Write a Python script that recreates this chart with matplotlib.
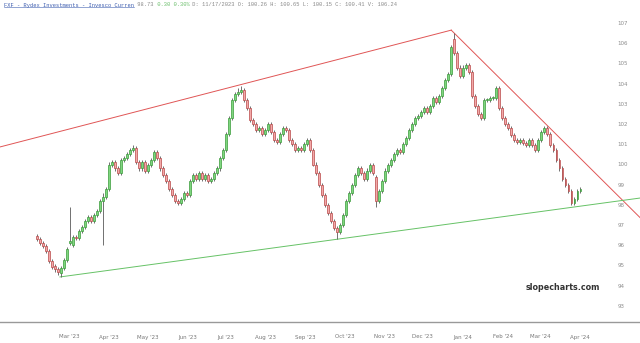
import pandas as pd
import matplotlib
matplotlib.use("Agg")
import matplotlib.pyplot as plt
import matplotlib.dates as mdates
from matplotlib.lines import Line2D

# ── data ──────────────────────────────────────────────────
start_date = "2023-02-04"
step = "56h"

open_ = [96.45, 96.30, 96.10, 95.95, 95.70, 95.20, 94.95, 94.80, 94.65, 94.85,
         95.25, 96.10, 96.00, 96.40, 96.35, 96.70, 96.90, 97.20, 97.40, 97.20,
         97.50, 97.70, 98.20, 98.40, 98.80, 99.97, 100.10, 99.80, 99.60, 100.20,
         100.30, 100.50, 100.70, 100.80, 100.10, 99.80, 100.10, 99.70, 99.95, 100.20,
         100.60, 100.30, 99.80, 99.50, 99.20, 98.80, 98.50, 98.20, 98.10, 98.30,
         98.60, 98.50, 99.20, 99.50, 99.30, 99.60, 99.30, 99.50, 99.20, 99.30,
         99.60, 99.80, 100.30, 100.70, 101.50, 102.30, 103.20, 103.50, 103.60, 103.70,
         103.20, 102.80, 102.20, 102.00, 101.70, 101.80, 101.50, 101.70, 102.00, 101.60,
         101.20, 101.10, 101.50, 101.80, 101.70, 101.20, 101.00, 100.70, 100.80, 100.70,
         101.00, 101.20, 100.70, 99.97, 99.60, 98.98, 98.50, 98.00, 97.60, 97.20,
         96.85, 96.65, 97.00, 97.50, 98.20, 98.60, 99.00, 99.50, 99.80, 99.60,
         99.30, 99.70, 99.95, 99.40, 98.20, 98.70, 99.20, 99.70, 99.95, 100.20,
         100.50, 100.70, 100.60, 101.00, 101.30, 101.70, 102.00, 102.30, 102.40, 102.60,
         102.80, 102.60, 102.90, 103.30, 103.10, 103.40, 103.80, 104.20, 104.50, 106.20,
         105.50, 104.80, 104.40, 104.80, 104.90, 104.60, 103.40, 102.90, 102.50, 102.30,
         103.20, 103.20, 103.30, 103.30, 103.80, 102.80, 102.30, 102.00, 101.80, 101.45,
         101.20, 101.10, 101.20, 101.05, 100.95, 101.20, 100.95, 100.70, 101.20, 101.60,
         101.80, 101.50, 100.95, 100.70, 100.20, 99.80, 99.30, 98.98, 98.70, 98.10,
         98.30, 98.70]

high = [96.55, 96.40, 96.20, 96.05, 95.80, 95.30, 95.05, 94.90, 94.95, 95.35,
        95.90, 97.90, 96.50, 96.50, 96.80, 97.00, 97.30, 97.50, 97.50, 97.60,
        97.80, 98.30, 98.60, 98.90, 100.10, 100.20, 100.20, 99.90, 100.30, 100.40,
        100.60, 100.80, 100.95, 100.90, 100.20, 100.20, 100.20, 100.05, 100.30, 100.70,
        100.70, 100.40, 99.90, 99.60, 99.30, 98.90, 98.60, 98.30, 98.40, 98.70,
        98.70, 99.30, 99.60, 99.60, 99.70, 99.70, 99.60, 99.60, 99.40, 99.70,
        99.90, 100.40, 100.80, 101.60, 102.40, 103.30, 103.60, 103.80, 103.90, 103.80,
        103.30, 102.90, 102.30, 102.10, 101.90, 101.90, 101.80, 102.10, 102.10, 101.70,
        101.30, 101.60, 101.90, 101.90, 101.80, 101.30, 101.10, 100.90, 100.90, 101.10,
        101.30, 101.30, 100.80, 100.10, 99.70, 99.10, 98.60, 98.10, 97.70, 97.30,
        96.95, 97.10, 97.60, 98.30, 98.70, 99.10, 99.60, 99.90, 99.90, 99.70,
        99.80, 100.05, 100.05, 99.50, 98.80, 99.30, 99.80, 100.05, 100.30, 100.60,
        100.80, 100.80, 101.10, 101.40, 101.80, 102.10, 102.40, 102.50, 102.70, 102.90,
        102.90, 103.00, 103.40, 103.40, 103.50, 103.90, 104.30, 104.60, 105.90, 106.50,
        105.60, 104.90, 104.90, 105.00, 105.00, 104.70, 103.50, 103.00, 102.60, 103.30,
        103.30, 103.40, 103.40, 103.90, 103.90, 102.90, 102.40, 102.10, 101.90, 101.55,
        101.30, 101.30, 101.30, 101.15, 101.30, 101.30, 101.05, 101.30, 101.70, 101.90,
        101.90, 101.60, 101.05, 100.80, 100.30, 99.90, 99.40, 99.10, 98.80, 98.40,
        98.80, 98.90]

low = [96.20, 96.00, 95.85, 95.60, 95.10, 94.80, 94.70, 94.55, 94.45, 94.75,
       95.15, 96.00, 95.90, 96.25, 96.25, 96.60, 96.80, 97.10, 97.10, 97.10,
       97.40, 97.60, 96.00, 98.30, 98.70, 99.85, 99.70, 99.50, 99.50, 100.10,
       100.20, 100.40, 100.60, 100.00, 99.70, 99.70, 99.60, 99.60, 99.85, 100.10,
       100.20, 99.70, 99.40, 99.10, 98.70, 98.40, 98.10, 98.00, 98.00, 98.20,
       98.40, 98.40, 99.10, 99.20, 99.20, 99.20, 99.20, 99.10, 99.10, 99.20,
       99.50, 99.70, 100.20, 100.60, 101.40, 102.20, 103.10, 103.40, 103.50, 103.10,
       102.70, 102.10, 101.90, 101.60, 101.60, 101.40, 101.40, 101.60, 101.50, 101.10,
       101.00, 101.00, 101.40, 101.60, 101.10, 100.90, 100.60, 100.60, 100.60, 100.60,
       100.90, 100.60, 99.90, 99.50, 98.90, 98.40, 97.90, 97.50, 97.10, 96.75,
       96.30, 96.55, 96.90, 97.40, 98.10, 98.50, 98.90, 99.40, 99.50, 99.20,
       99.20, 99.60, 99.50, 97.90, 98.10, 98.60, 99.10, 99.60, 99.85, 100.10,
       100.40, 100.50, 100.50, 100.90, 101.20, 101.60, 101.90, 102.20, 102.30, 102.50,
       102.50, 102.50, 102.80, 103.00, 103.00, 103.30, 103.70, 104.10, 104.40, 105.40,
       104.70, 104.30, 104.30, 104.70, 104.50, 103.30, 102.80, 102.40, 102.20, 102.20,
       103.10, 103.10, 103.20, 103.20, 102.70, 102.20, 101.90, 101.70, 101.35, 101.10,
       101.00, 101.00, 100.95, 100.85, 100.85, 100.85, 100.60, 100.60, 101.10, 101.50,
       101.40, 100.85, 100.60, 100.10, 99.70, 99.20, 98.90, 98.60, 98.00, 98.00,
       98.20, 98.60]

close = [96.30, 96.10, 95.95, 95.70, 95.20, 94.90, 94.80, 94.70, 94.85, 95.25,
         95.80, 96.20, 96.40, 96.35, 96.70, 96.90, 97.20, 97.40, 97.20, 97.50,
         97.70, 98.20, 98.40, 98.80, 99.97, 100.10, 99.80, 99.60, 100.20, 100.30,
         100.50, 100.70, 100.80, 100.10, 99.80, 100.10, 99.70, 99.95, 100.20, 100.60,
         100.30, 99.80, 99.50, 99.20, 98.80, 98.50, 98.20, 98.10, 98.30, 98.60,
         98.50, 99.20, 99.50, 99.30, 99.60, 99.30, 99.50, 99.20, 99.30, 99.60,
         99.80, 100.30, 100.70, 101.50, 102.30, 103.20, 103.50, 103.60, 103.70, 103.20,
         102.80, 102.20, 102.00, 101.70, 101.80, 101.50, 101.70, 102.00, 101.60, 101.20,
         101.10, 101.50, 101.80, 101.70, 101.20, 101.00, 100.70, 100.80, 100.70, 101.00,
         101.20, 100.70, 99.97, 99.60, 98.98, 98.50, 98.00, 97.60, 97.20, 96.85,
         96.65, 97.00, 97.50, 98.20, 98.60, 99.00, 99.50, 99.80, 99.60, 99.30,
         99.70, 99.95, 99.60, 98.20, 98.70, 99.20, 99.70, 99.95, 100.20, 100.50,
         100.70, 100.60, 101.00, 101.30, 101.70, 102.00, 102.30, 102.40, 102.60, 102.80,
         102.60, 102.90, 103.30, 103.10, 103.40, 103.80, 104.20, 104.50, 105.80, 105.50,
         104.80, 104.40, 104.80, 104.90, 104.60, 103.40, 102.90, 102.50, 102.30, 103.20,
         103.20, 103.30, 103.30, 103.80, 102.80, 102.30, 102.00, 101.80, 101.45, 101.20,
         101.10, 101.20, 101.05, 100.95, 101.20, 100.95, 100.70, 101.20, 101.60, 101.80,
         101.50, 100.95, 100.70, 100.20, 99.80, 99.30, 98.98, 98.70, 98.10, 98.30,
         98.70, 98.80]

# trendlines drawn on the chart
red_up_dates = ["2023-01-06", "2023-12-23"]
red_up_prices = [100.86, 106.65]
red_down_dates = ["2023-12-23", "2024-05-18"]
red_down_prices = [106.65, 97.35]
green_dates = ["2023-02-22", "2024-05-18"]
green_prices = [94.43, 98.34]

month_ticks = pd.date_range("2023-03-01", "2024-04-01", freq="MS")
y_ticks = list(range(93, 108))

title_parts = [
    ("FXF - Rydex Investments - Invesco Curren", "#3f5fb0"),
    (" 98.73", "#8a8a8a"),
    (" 0.30 0.30%", "#6cbf6c"),
    (" D: 11/17/2023 O: 100.26 H: 100.65 L: 100.15 C: 100.41 V: 106.24", "#8a8a8a"),
]

# ── figure ────────────────────────────────────────────────
fig = plt.figure(figsize=(6.4, 3.43), dpi=100)
ax = fig.add_axes([0, 21 / 343, 1, 306 / 343])

dates = pd.date_range(start_date, periods=len(close), freq=step)
xs = mdates.date2num(dates.to_pydatetime())

up_face, up_edge = "#7fd67f", "#3a9a3a"
dn_face, dn_edge = "#f3a9a9", "#b84848"

ax.vlines(xs, low, high, color="#5a5a5a", linewidth=0.6, zorder=2)
bottoms = [min(o, c) for o, c in zip(open_, close)]
heights = [max(abs(c - o), 0.04) for o, c in zip(open_, close)]
faces = [up_face if c >= o else dn_face for o, c in zip(open_, close)]
edges = [up_edge if c >= o else dn_edge for o, c in zip(open_, close)]
ax.bar(xs, heights, bottom=bottoms, width=1.3, color=faces,
       edgecolor=edges, linewidth=0.5, zorder=3)

def to_num(ds):
    return mdates.date2num(pd.to_datetime(ds).to_pydatetime())

ax.plot(to_num(red_up_dates), red_up_prices, color="#e05555", linewidth=0.7, zorder=1)
ax.plot(to_num(red_down_dates), red_down_prices, color="#e05555", linewidth=0.7, zorder=1)
ax.plot(to_num(green_dates), green_prices, color="#66c266", linewidth=0.7, zorder=1)

ax.set_xlim(to_num(["2023-01-06 10:00"])[0], to_num(["2024-05-17 16:00"])[0])
ax.set_ylim(92.2, 107.35)

ax.set_xticks(mdates.date2num(month_ticks.to_pydatetime()))
ax.xaxis.set_major_formatter(mdates.DateFormatter("%b '%y"))
ax.tick_params(axis="x", length=0, labelsize=4, labelcolor="#777777", pad=9)

ax.set_yticks(y_ticks)
ax.yaxis.tick_right()
ax.tick_params(axis="y", length=0, labelsize=4, labelcolor="#8c8c8c", pad=-16)
for lbl in ax.get_yticklabels():
    lbl.set_horizontalalignment("left")

for s in ["top", "left", "right"]:
    ax.spines[s].set_visible(False)
ax.spines["bottom"].set_color("#999999")
ax.spines["bottom"].set_linewidth(1.0)

# title in coloured pieces
renderer = fig.canvas.get_renderer()
x0 = 4 / 640
y0 = 1 - 5 / 343
for i, (txt, col) in enumerate(title_parts):
    t = fig.text(x0, y0, txt, color=col, fontsize=3.9, family="Liberation Mono",
                 ha="left", va="center")
    bb = t.get_window_extent(renderer).transformed(fig.transFigure.inverted())
    if i == 0:
        fig.add_artist(Line2D([bb.x0, bb.x1], [bb.y0 + 0.002, bb.y0 + 0.002],
                              color=col, linewidth=0.4, transform=fig.transFigure))
    x0 = bb.x1

fig.text(563 / 640, 1 - 287 / 343, "slopecharts.com", ha="center", va="center",
         fontsize=5.8, fontweight="bold", color="#333333")

fig.savefig("out.png", dpi=100)
